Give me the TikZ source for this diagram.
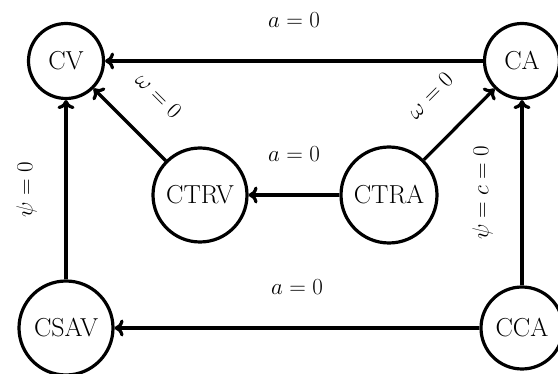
\RequirePackage{fix-cm}
\documentclass[tikz,border=0pt]{standalone}
\usetikzlibrary{arrows.meta}
\begin{document}
\begin{tikzpicture}[x=1pt,y=-1pt,
  state/.style={circle, draw, line width=3.2pt, inner sep=0pt, font=\fontsize{26}{30}\selectfont},
  trans/.style={line width=3.2pt, -{Computer Modern Rightarrow[length=9pt,width=17pt]}},
  lab/.style={font=\fontsize{23}{27}\selectfont, inner sep=0pt, text height=16pt, text depth=4.5pt, above=27.5pt}]
\useasboundingbox (0,0) rectangle (558,374);
\node[state, minimum size=75pt] (CV) at (66,61) {CV};
\node[state, minimum size=75pt] (CA) at (522,61) {CA};
\node[state, minimum size=94pt] (CTRV) at (200,195) {CTRV};
\node[state, minimum size=96pt] (CTRA) at (389,195) {CTRA};
\node[state, minimum size=94pt] (CSAV) at (66,328) {CSAV};
\node[state, minimum size=82pt] (CCA) at (522,328) {CCA};
\draw[trans] (CA) -- node[lab]{$a = 0$} (CV);
\draw[trans] (CTRA) -- node[lab]{$a = 0$} (CTRV);
\draw[trans] (CCA) -- node[lab]{$a = 0$} (CSAV);
\draw[trans] (CTRV) -- node[lab, sloped]{$\omega = 0$} (CV);
\draw[trans] (CTRA) -- node[lab, sloped]{$\omega = 0$} (CA);
\draw[trans] (CSAV) -- node[lab, sloped]{$\psi = 0$} (CV);
\draw[trans] (CCA) -- node[lab, sloped]{$\psi = c = 0$} (CA);
\end{tikzpicture}
\end{document}
